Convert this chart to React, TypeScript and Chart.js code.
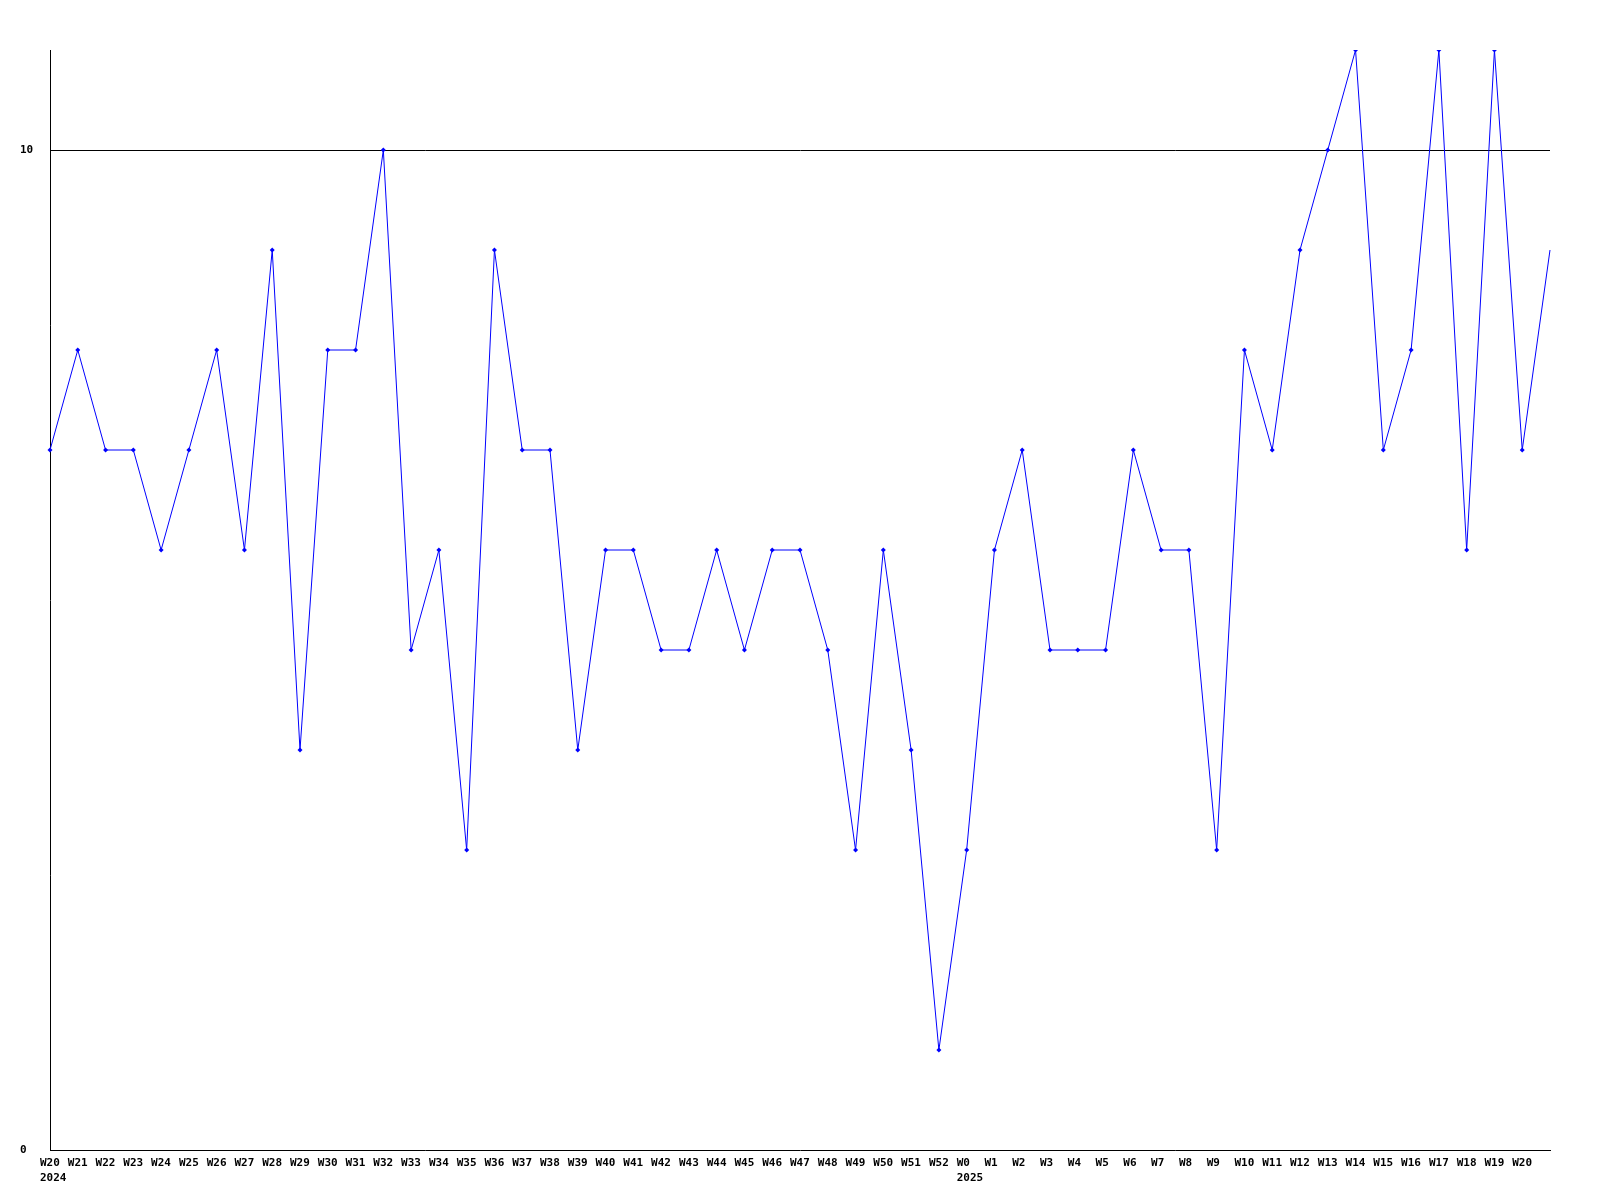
import React, { useEffect, useRef } from "react";
import { Chart, registerables } from "chart.js";

Chart.register(...registerables);

const weeks: string[] = [
  "W20", "W21", "W22", "W23", "W24", "W25", "W26", "W27", "W28", "W29",
  "W30", "W31", "W32", "W33", "W34", "W35", "W36", "W37", "W38", "W39",
  "W40", "W41", "W42", "W43", "W44", "W45", "W46", "W47", "W48", "W49",
  "W50", "W51", "W52", "W0", "W1", "W2", "W3", "W4", "W5", "W6",
  "W7", "W8", "W9", "W10", "W11", "W12", "W13", "W14", "W15", "W16",
  "W17", "W18", "W19", "W20", "",
];

const yearLabels: Record<number, string> = { 0: "2024", 33: "2025" };

const values: number[] = [
  7, 8, 7, 7, 6, 7, 8, 6, 9, 4,
  8, 8, 10, 5, 6, 3, 9, 7, 7, 4,
  6, 6, 5, 5, 6, 5, 6, 6, 5, 3,
  6, 4, 1, 3, 6, 7, 5, 5, 5, 7,
  6, 6, 3, 8, 7, 9, 10, 11, 7, 8,
  11, 6, 11, 7, 9,
];

const yTicks: number[] = [0, 10];
const yMax = 11;

export default function App() {
  const ref = useRef<HTMLCanvasElement | null>(null);

  useEffect(() => {
    if (!ref.current) return;
    const labels = weeks.map((w, i) => (yearLabels[i] ? [w, yearLabels[i]] : w));
    const font = { family: "'DejaVu Sans Mono', monospace", size: 11, weight: "bold" as const, lineHeight: 1.35 };
    const chart = new Chart(ref.current, {
      type: "line",
      data: {
        labels,
        datasets: [
          {
            data: values,
            borderColor: "#0000ff",
            backgroundColor: "#0000ff",
            borderWidth: 1,
            pointStyle: "rectRot",
            pointRadius: values.map((_, i) => (i === values.length - 1 ? 0 : 2.5)),
            pointBorderWidth: 0,
            tension: 0,
            fill: false,
          },
        ],
      },
      options: {
        animation: false,
        responsive: false,
        maintainAspectRatio: false,
        layout: { padding: { left: 20, top: 50, right: 50, bottom: 0 } },
        plugins: { legend: { display: false }, tooltip: { enabled: false } },
        scales: {
          x: {
            type: "category",
            offset: false,
            grid: { display: false, drawTicks: false },
            border: { display: true, color: "#000", width: 1 },
            ticks: {
              autoSkip: false,
              maxRotation: 0,
              minRotation: 0,
              align: "start",
              labelOffset: -10,
              padding: 6,
              color: "#000",
              font,
            },
            afterFit: (s: any) => {
              s.height = 50;
            },
          },
          y: {
            min: 0,
            max: yMax,
            afterBuildTicks: (s: any) => {
              s.ticks = yTicks.map((v) => ({ value: v }));
            },
            grid: {
              drawTicks: false,
              color: (c: any) => (c.tick && c.tick.value === 10 ? "#000" : "rgba(0,0,0,0)"),
              lineWidth: 1,
            },
            border: { display: true, color: "#000", width: 1 },
            ticks: {
              crossAlign: "far",
              padding: 0,
              color: "#000",
              font,
            },
            afterFit: (s: any) => {
              s.width = 30;
            },
          },
        },
      },
    });
    return () => chart.destroy();
  }, []);

  return (
    <div style={{ position: "absolute", left: 0, top: 0, width: 1600, height: 1200, background: "#fff" }}>
      <canvas ref={ref} width={1600} height={1200} style={{ width: 1600, height: 1200 }} />
    </div>
  );
}
